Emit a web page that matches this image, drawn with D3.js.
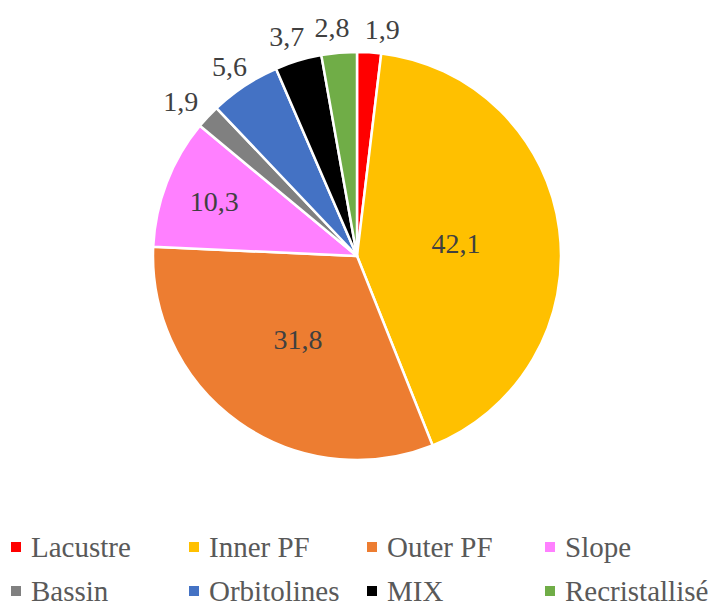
<!DOCTYPE html>
<html>
<head>
<meta charset="utf-8">
<script src="https://cdn.jsdelivr.net/npm/d3@7"></script>
<style>
  body { margin: 0; background: #fff; }
  svg { display: block; }
</style>
</head>
<body>
<div id="chart"></div>
<script>
// data
var categories = ['Lacustre', 'Inner PF', 'Outer PF', 'Slope', 'Bassin', 'Orbitolines', 'MIX', 'Recristallisé'];
var values = [1.9, 42.1, 31.8, 10.3, 1.9, 5.6, 3.7, 2.8];
var valueLabels = ['1,9', '42,1', '31,8', '10,3', '1,9', '5,6', '3,7', '2,8'];
var colors = ['#FF0000', '#FFC000', '#ED7D31', '#FF80FF', '#808080', '#4472C4', '#000000', '#70AD47'];

// label placement: fraction of radius, and small angle nudge (degrees)
var labelRadius = [1.12, 0.49, 0.5, 0.75, 1.15, 1.12, 1.13, 1.13];
var labelNudge = [2.9, 0, 0, 0, -1.8, -0.5, -1, -1.2];

var width = 713, height = 604;
var cx = 357, cy = 256, radius = 204;
var font = 'Liberation Serif';

var svg = d3.select('#chart').append('svg')
	.attr('width', width)
	.attr('height', height);

var rows = categories.map(function(c, i) {
	return {name: c, value: values[i], label: valueLabels[i], color: colors[i], lr: labelRadius[i], nudge: labelNudge[i]};
});

var pie = d3.pie()
	.sort(null)
	.value(function(d) { return d.value; });

var arc = d3.arc()
	.innerRadius(0)
	.outerRadius(radius);

var g = svg.append('g')
	.attr('transform', 'translate(' + cx + ',' + cy + ')');

var arcs = pie(rows);

g.selectAll('.slice')
	.data(arcs)
	.enter()
	.append('path')
	.attr('class', 'slice')
	.attr('d', arc)
	.attr('fill', function(d) { return d.data.color; })
	.attr('stroke', '#fff')
	.attr('stroke-width', 2.5)
	.attr('stroke-linejoin', 'round');

function labelAngle(d) {
	return (d.startAngle + d.endAngle) / 2 + d.data.nudge * Math.PI / 180;
}

g.selectAll('.lbl')
	.data(arcs)
	.enter()
	.append('text')
	.attr('class', 'lbl')
	.attr('x', function(d) { return Math.sin(labelAngle(d)) * radius * d.data.lr; })
	.attr('y', function(d) { return -Math.cos(labelAngle(d)) * radius * d.data.lr; })
	.attr('dy', '0.35em')
	.attr('text-anchor', 'middle')
	.attr('font-family', font)
	.attr('font-size', 28)
	.attr('fill', '#404040')
	.text(function(d) { return d.data.label; });

// legend, 4 per row
var legendX = d3.scaleLinear().domain([0, 3]).range([11, 545]);
var legendY = d3.scaleLinear().domain([0, 1]).range([547, 591]);

var legend = svg.selectAll('.legend')
	.data(rows)
	.enter()
	.append('g')
	.attr('class', 'legend')
	.attr('transform', function(d, i) {
		return 'translate(' + legendX(i % 4) + ',' + legendY(Math.floor(i / 4)) + ')';
	});

legend.append('rect')
	.attr('x', 0)
	.attr('y', -5)
	.attr('width', 10)
	.attr('height', 10)
	.attr('fill', function(d) { return d.color; });

legend.append('text')
	.attr('x', 20)
	.attr('y', 0)
	.attr('dy', '0.33em')
	.attr('font-family', font)
	.attr('font-size', 29)
	.attr('fill', '#595959')
	.text(function(d) { return d.name; });
</script>
</body>
</html>
